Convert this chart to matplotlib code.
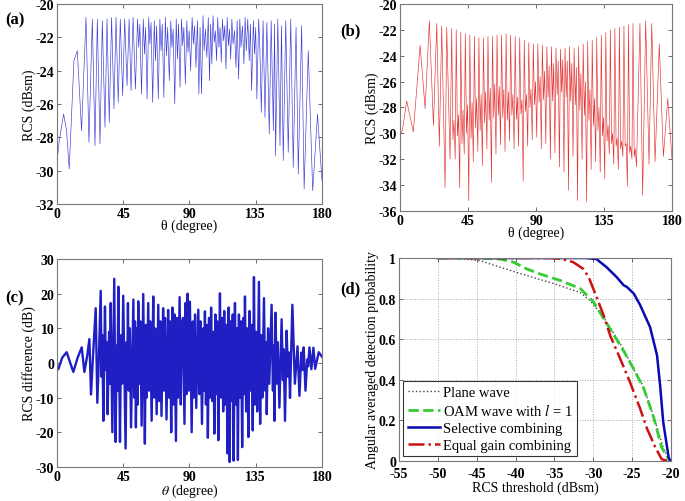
import matplotlib
matplotlib.use("Agg")
import matplotlib.pyplot as plt

plt.rcParams['font.family'] = ['Liberation Serif', 'DejaVu Serif']
plt.rcParams['mathtext.fontset'] = 'stix'
plt.rcParams['axes.unicode_minus'] = False

# ---- (a) plane wave RCS, turning points ----
theta_a = [0, 1.4, 4.5, 6.5, 8.3, 11.5, 13.8, 16.7, 19.7, 21.7, 24.0, 25.8, 27.4, 29.2,
           30.8, 32.6, 34.0, 35.5, 37.1, 38.7, 40.1, 41.6, 43.0, 44.6, 46.0, 47.6, 49.0,
           50.3, 51.7, 53.3, 54.7, 55.5, 56.3, 57.4, 58.6, 59.4, 60.2, 61.2, 62.3, 63.1,
           63.9, 65.0, 66.1, 66.9, 67.7, 68.8, 69.9, 70.7, 71.5, 72.6, 73.6, 74.4, 75.2,
           76.3, 77.3, 78.1, 78.9, 80.0, 81.0, 81.8, 82.6, 83.6, 84.6, 85.4, 86.2, 87.2,
           88.2, 89.0, 89.8, 90.8, 91.8, 92.6, 93.4, 94.4, 95.4, 96.4, 97.2, 98.2, 99.2,
           100.0, 100.8, 101.8, 102.8, 103.6, 104.4, 105.2, 106.0, 106.8, 107.6, 108.4,
           109.2, 110.0, 110.8, 111.6, 112.4, 113.2, 114.0, 114.8, 115.6, 116.4, 117.2,
           118.0, 118.8, 119.6, 120.6, 121.6, 122.4, 123.4, 124.2, 125.0, 126.0, 127.0,
           127.8, 128.6, 129.6, 130.6, 131.4, 132.2, 133.4, 134.2, 135.0, 135.8, 137.0,
           137.8, 138.8, 140.0, 141.3, 142.6, 143.2, 144.2, 145.5, 147.0, 147.8, 148.5,
           150.0, 151.5, 152.5, 153.7, 155.4, 157.1, 158.8, 160.5, 162.4, 163.9, 166.2,
           167.9, 170.7, 173.7, 177.0, 180.0]
rcs_a = [-29.5, -28.3, -26.6, -27.6, -29.9, -23.4, -22.8, -27.6, -20.8, -28.3, -20.9, -28.5,
         -20.9, -28.4, -21.0, -27.4, -20.9, -27.1, -20.8, -26.3, -20.8, -25.9, -20.9, -25.5,
         -20.9, -24.9, -20.9, -25.2, -20.8, -25.1, -20.9, -22.6, -21.2, -25.4, -20.9, -23.0,
         -21.4, -25.7, -20.8, -22.4, -21.1, -25.9, -21.0, -23.4, -21.3, -25.7, -20.9, -22.8,
         -21.2, -25.6, -20.8, -23.1, -21.4, -24.6, -21.0, -22.6, -21.5, -26.0, -20.9, -23.3,
         -21.2, -25.0, -20.9, -22.5, -21.4, -24.8, -21.0, -22.9, -21.6, -24.0, -20.8, -22.4,
         -21.3, -23.8, -21.0, -25.4, -21.4, -25.4, -20.7, -22.8, -21.5, -23.2, -20.8, -24.6,
         -21.2, -23.6, -20.7, -22.3, -21.6, -23.4, -20.8, -22.6, -21.4, -23.5, -20.9, -22.2,
         -21.3, -23.9, -20.8, -22.5, -21.5, -23.3, -20.9, -22.4, -21.6, -23.8, -21.0, -24.5,
         -20.9, -22.6, -21.3, -23.6, -20.8, -22.8, -20.9, -23.4, -21.2, -25.2, -21.0,
         -23.0, -21.4, -25.7, -20.9, -22.6, -26.5, -21.0, -26.8, -21.1, -23.5, -27.8, -21.0,
         -27.6, -21.2, -29.1, -20.9, -28.5, -21.3, -29.4, -21.0, -28.9, -20.9, -29.8, -21.4,
         -30.2, -21.3, -31.1, -22.8, -31.2, -26.6, -30.6]

# ---- (b) OAM wave RCS ----
theta_b = [0, 1.5, 4.4, 8.8, 13.3, 16.6, 19.4, 22.1, 24.3, 26.0, 27.6, 29.8, 30.9, 33.1,
           34.2, 35.0, 35.7, 36.5, 37.2, 38.0, 38.7, 39.5, 40.2, 41.0, 41.7, 42.5,
           43.2, 44.0, 44.7, 45.5, 46.2, 47.0, 47.7, 48.5, 49.2, 50.0, 50.7, 51.5,
           52.2, 53.0, 53.7, 54.5, 55.2, 56.0, 56.7, 57.5, 58.2, 59.0, 59.7, 60.5,
           61.2, 62.0, 62.7, 63.5, 64.2, 65.0, 65.7, 66.5, 67.2, 68.0, 68.7, 69.5,
           70.2, 71.0, 71.7, 72.5, 73.2, 74.0, 74.7, 75.5, 76.2, 77.0, 77.7, 78.5,
           79.2, 80.0, 80.7, 81.5, 82.2, 83.0, 83.7, 84.5, 85.2, 86.0, 86.7, 87.5,
           88.2, 89.0, 89.7, 90.5, 91.2, 92.0, 92.7, 93.5, 94.2, 95.0, 95.7, 96.5,
           97.2, 98.0, 98.7, 99.5, 100.2, 101.0, 101.7, 102.5, 103.2, 104.0, 104.7, 105.5,
           106.2, 107.0, 107.7, 108.5, 109.2, 110.0, 110.7, 111.5, 112.2, 113.0, 113.7, 114.5,
           115.2, 116.0, 116.7, 117.5, 118.2, 119.0, 119.7, 120.5, 121.2, 122.0, 122.7, 123.5,
           124.2, 125.0, 125.7, 126.5, 127.2, 128.0, 128.7, 129.5, 130.2, 131.0, 131.7, 132.5,
           133.2, 134.0, 134.7, 135.5, 136.2, 137.0, 137.7, 138.5, 139.2, 140.0, 140.7, 141.5,
           142.2, 143.0, 143.7, 144.5, 145.2, 146.0, 146.7, 147.5, 148.2, 149.0, 149.7, 150.5,
           151.2, 152.0, 152.7, 153.5, 154.2, 155.0, 155.7, 156.5,
           158.8, 160.6, 162.6, 164.8, 166.6, 168.8, 171.6, 174.3, 177.2, 180.0]
rcs_b = [-30.2, -29.8, -27.5, -29.9, -23.2, -28.1, -21.3, -29.4, -21.5, -31.0, -21.7, -34.2, -21.8, -32.0,
         -21.9, -30.5, -29.0, -32.0, -22.0, -30.2, -28.6, -34.2, -22.2, -30.8, -28.2, -31.6,
         -22.3, -30.0, -27.8, -35.2, -22.4, -30.4, -27.6, -32.2, -22.5, -29.6, -27.3, -31.4,
         -22.6, -29.8, -27.0, -32.5, -22.6, -29.2, -26.8, -31.2, -22.5, -29.0, -26.5, -33.8,
         -22.5, -28.8, -26.2, -31.6, -22.4, -28.6, -26.4, -30.9, -22.4, -28.8, -26.6, -31.4,
         -22.3, -29.0, -26.8, -30.6, -22.4, -28.6, -27.0, -31.2, -22.5, -28.9, -27.2, -31.0,
         -22.6, -28.5, -27.4, -33.7, -22.8, -28.3, -27.0, -31.0, -23.0, -28.0, -26.6, -30.5,
         -23.1, -27.8, -26.0, -30.3, -23.1, -27.6, -25.6, -31.2, -23.2, -27.4, -25.2, -30.8,
         -23.3, -27.2, -24.8, -32.0, -23.3, -27.5, -24.6, -31.5, -23.4, -27.0, -24.4, -32.6,
         -23.5, -26.8, -24.3, -33.0, -23.4, -27.2, -24.4, -34.4, -23.3, -27.5, -24.6, -31.8,
         -23.4, -27.8, -24.9, -35.2, -23.3, -28.2, -25.4, -32.0, -23.1, -28.6, -26.0, -35.3,
         -22.9, -29.0, -26.6, -32.8, -22.8, -29.4, -27.3, -32.2, -22.6, -29.8, -28.0, -33.0,
         -22.4, -30.2, -28.8, -33.5, -22.2, -30.6, -29.4, -31.6, -22.0, -30.8, -30.0, -32.4,
         -21.9, -31.0, -30.4, -32.8, -21.8, -31.2, -30.6, -31.8, -21.7, -31.0, -30.8, -34.1,
         -21.6, -31.5, -31.0, -32.0, -21.5, -31.8, -31.2, -32.6,
         -21.5, -34.8, -21.3, -32.4, -21.5, -32.2, -23.1, -31.8, -27.3, -32.0]

# ---- (c) RCS difference ----
theta_c = [0.0, 0.9, 3.5, 6.6, 9.0, 11.1, 14.0, 16.8, 18.6, 20.5, 22.0, 23.1, 24.6, 26.3,
           27.4, 28.5, 29.7, 30.3, 30.8, 31.5, 32.6, 33.2, 33.8, 34.4, 35.4, 35.9, 36.5,
           37.6, 38.9, 39.8, 40.5, 41.0, 41.7, 42.8, 43.5, 44.2, 45.0, 46.6, 47.3, 47.7,
           48.2, 48.8, 49.5, 50.3, 51.9, 52.5, 53.0, 53.6, 54.4, 54.8, 55.2, 56.0, 56.6,
           57.5, 58.6, 59.7, 60.4, 60.9, 62.0, 62.7, 63.3, 64.3, 65.4, 66.1, 66.7, 67.7,
           68.8, 69.5, 70.2, 71.0, 72.1, 72.7, 73.4, 74.4, 75.5, 76.1, 76.8, 77.6, 78.4,
           79.1, 79.8, 80.8, 81.6, 82.3, 83.3, 84.1, 84.8, 85.6, 86.6, 87.3, 88.0, 88.7,
           89.4, 90.3, 91.5, 92.3, 93.0, 93.8, 94.6, 96.0, 96.8, 97.5, 98.5, 99.4, 100.0,
           100.5, 101.2, 101.8, 102.5, 103.3, 104.0, 104.7, 105.5, 106.2, 106.9, 107.6,
           108.3, 109.0, 109.6, 110.7, 111.5, 112.2, 112.9, 113.6, 114.3, 115.0, 115.8,
           116.6, 117.3, 118.0, 118.7, 119.4, 120.0, 120.9, 121.6, 122.2, 122.9, 123.6,
           124.3, 125.0, 125.8, 126.6, 127.2, 127.7, 128.5, 129.2, 130.0, 130.8, 131.5,
           132.2, 133.0, 133.8, 134.5, 135.2, 136.0, 137.2, 138.0, 138.8, 139.5, 140.6,
           141.5, 142.0, 142.5, 143.4, 144.2, 145.8, 146.7, 147.2, 147.7, 148.5, 149.3,
           150.0, 151.1, 152.6, 153.5, 154.0, 154.9, 156.0, 157.0, 157.5, 158.3, 159.9,
           161.6, 163.4, 164.7, 166.0, 166.8, 167.6, 168.8, 170.0, 170.6, 171.5, 172.8,
           174.2, 175.4, 177.8, 180.0]
diff_c = [-1.2, -1.8, 1.5, 3.1, 0.0, -2.6, 1.5, 4.5, -2.6, 2.0, 6.9, -9.1, 3.0, 15.8,
          -11.5, 2.0, 20.8, -4.0, 8.0, -16.7, 16.3, -2.0, 6.0, -14.8, 9.0, -6.0, 17.3,
          -20.0, 24.3, -22.8, 5.0, -8.0, 22.0, -22.8, 8.0, -6.0, 19.4, -24.7, 6.0, -4.0,
          17.3, -8.0, 10.0, -18.6, 18.3, -10.0, 12.0, -18.6, 10.0, -12.0, 17.8, -6.0, 12.0,
          -18.1, 19.9, -23.3, 11.0, -10.0, 17.3, -8.0, 12.0, -16.7, 19.2, -10.0, 10.0, -14.8,
          16.8, -11.0, 12.0, -15.3, 15.8, -8.0, 13.0, -16.3, 15.3, -10.0, 12.0, -20.0, 16.0,
          -12.0, 14.0, -22.5, 13.0, -10.0, 19.0, -12.0, 11.0, 13.0, -17.6, 17.3, -9.0, 20.0,
          -8.0, 17.7, -20.0, 12.0, -10.0, 14.0, -13.0, 15.4, -9.0, 12.0, -17.6, 10.0, -8.0,
          14.9, -12.0, 11.0, -21.6, 13.0, -10.0, 16.0, -11.0, 9.0, -20.4, 14.0,
          -9.0, 12.0, -22.3, 20.1, -10.0, 13.0, -14.0, 15.0, -12.0, 11.0, -26.1,
          16.0, -28.6, 12.0, -11.0, 14.0, -28.2, 17.3, -12.0, 10.0, -28.0, 14.0,
          -10.0, 12.0, -24.3, 13.0, -9.0, 19.2, -14.0, 10.0, -21.4, 15.0, -8.0,
          11.0, -19.5, 24.8, -12.0, 9.0, -14.0, 23.4, -17.6, 8.0, -10.0, 18.7,
          -8.0, 6.0, -14.8, 10.0, -6.0, 16.8, -8.0, 5.0, -16.7, 14.5, -6.0,
          6.0, -12.9, 12.6, -5.0, 4.0, -16.7, 9.3, -4.0, 3.0, -10.1, 16.8,
          -6.0, 4.8, -9.5, 3.0, -2.0, 4.5, -8.0, 1.0, -1.0, 4.5, -1.8,
          4.4, -1.7, 3.1, 1.8]

# ---- (d) detection probability ----
plane_x = [-50, -47, -44.6, -42, -38.6, -35.1, -31.7, -30.4, -28.7, -27.4, -26.1, -24.8, -23.6, -22.3, -21.0, -20.3, -20.0]
plane_y = [1.0, 0.997, 0.987, 0.955, 0.914, 0.874, 0.83, 0.79, 0.71, 0.63, 0.55, 0.45, 0.37, 0.227, 0.065, 0.008, 0.0]
oam_x = [-50, -45, -42, -40.3, -38.6, -36.9, -34.3, -31.7, -30.0, -28.7, -27.4, -26.1, -24.8, -23.5, -22.2, -21.2, -20.3, -20.0]
oam_y = [1.0, 1.0, 0.995, 0.98, 0.947, 0.922, 0.89, 0.85, 0.785, 0.704, 0.623, 0.542, 0.453, 0.356, 0.21, 0.065, 0.008, 0.0]
sel_x = [-50, -31.0, -29.6, -28.3, -27.0, -26.1, -25.7, -24.8, -24.0, -22.7, -21.8, -21.4, -21.0, -20.3, -20.1]
sel_y = [1.0, 1.0, 0.995, 0.955, 0.906, 0.866, 0.858, 0.825, 0.77, 0.66, 0.52, 0.37, 0.19, 0.016, 0.0]
egc_x = [-50, -35.5, -34.0, -32.6, -31.3, -30.6, -29.6, -28.7, -27.8, -26.5, -25.3, -24.0, -23.1, -22.0, -21.2, -20.5]
egc_y = [1.0, 1.0, 0.995, 0.98, 0.947, 0.906, 0.81, 0.72, 0.615, 0.5, 0.39, 0.26, 0.16, 0.065, 0.008, 0.0]

fig = plt.figure(figsize=(6.85, 5.02), dpi=100)
ax_a = fig.add_axes([0.0832, 0.5916, 0.3868, 0.3984])
ax_b = fig.add_axes([0.584, 0.578, 0.397, 0.412])
ax_c = fig.add_axes([0.0832, 0.068, 0.3868, 0.414])
ax_d = fig.add_axes([0.5825, 0.08, 0.3971, 0.404])

tick_font = {'family': 'Liberation Serif', 'size': 10, 'weight': 'bold'}


def style(ax):
    ax.tick_params(direction='in', top=True, right=True, length=3, width=0.6, colors='#555555',
                   labelcolor='black', pad=2)
    for s in ax.spines.values():
        s.set_color('#777777')
        s.set_linewidth(0.8)
    for lab in ax.get_xticklabels() + ax.get_yticklabels():
        lab.set_fontproperties(tick_font)


ax_a.plot(theta_a, rcs_a, color='#3a3ad8', lw=0.45)
ax_a.set_xlim(0, 180)
ax_a.set_ylim(-32, -20)
ax_a.set_xticks([0, 45, 90, 135, 180])
ax_a.set_yticks(range(-32, -19, 2))
ax_a.set_xlabel('θ (degree)', fontsize=10, labelpad=-1)
ax_a.set_ylabel('RCS (dBsm)', fontsize=10, labelpad=0)
style(ax_a)

ax_b.plot(theta_b, rcs_b, color='#e53030', lw=0.45)
ax_b.set_xlim(0, 180)
ax_b.set_ylim(-36, -20)
ax_b.set_xticks([0, 45, 90, 135, 180])
ax_b.set_yticks(range(-36, -19, 2))
ax_b.set_xlabel('θ (degree)', fontsize=10, labelpad=-1)
ax_b.set_ylabel('RCS (dBsm)', fontsize=10, labelpad=0)
style(ax_b)

ax_c.plot(theta_c, diff_c, color='#1f1fc4', lw=1.7)
ax_c.set_xlim(0, 180)
ax_c.set_ylim(-30, 30)
ax_c.set_xticks([0, 45, 90, 135, 180])
ax_c.set_yticks(range(-30, 31, 10))
ax_c.set_xlabel(r'$\theta$ (degree)', fontsize=10, labelpad=-0.5)
ax_c.set_ylabel('RCS difference (dB)', fontsize=10, labelpad=0)
style(ax_c)

ax_d.plot(plane_x, plane_y, color='#444444', ls=':', lw=1.0, label='Plane wave')
ax_d.plot(oam_x, oam_y, color='#33cc33', ls='--', lw=2.0, label='OAM wave with $l$ = 1')
ax_d.plot(sel_x, sel_y, color='#0a0ab4', ls='-', lw=1.8, label='Selective combining')
ax_d.plot(egc_x, egc_y, color='#cc1111', ls='-.', lw=1.8, label='Equal gain combining')
ax_d.set_xlim(-55, -20)
ax_d.set_ylim(0, 1)
ax_d.set_xticks(range(-55, -19, 5))
ax_d.set_yticks([0, 0.2, 0.4, 0.6, 0.8, 1])
ax_d.set_yticklabels(['0', '0.2', '0.4', '0.6', '0.8', '1'])
ax_d.grid(True, ls=':', color='#aaaaaa', lw=0.7)
ax_d.set_xlabel('RCS threshold (dBsm)', fontsize=10, labelpad=0)
ax_d.set_ylabel('Angular averaged detection probability', fontsize=10, labelpad=0)
style(ax_d)
ax_d.tick_params(axis='x', pad=4.5)
leg = ax_d.legend(loc='lower left', frameon=True, fancybox=False,
                  borderpad=0.3, labelspacing=0.25, handlelength=2.2, handletextpad=0.2,
                  borderaxespad=0.3, prop={'family': 'Liberation Serif', 'size': 10.5})
leg.get_frame().set_edgecolor('black')
leg.get_frame().set_linewidth(0.8)

for txt, x, y in [('(a)', 0.008, 0.952), ('(b)', 0.496, 0.93), ('(c)', 0.008, 0.397), ('(d)', 0.496, 0.415)]:
    fig.text(x, y, txt, fontsize=12, fontweight='bold', family='Liberation Serif')

fig.savefig('out.png', dpi=100)
